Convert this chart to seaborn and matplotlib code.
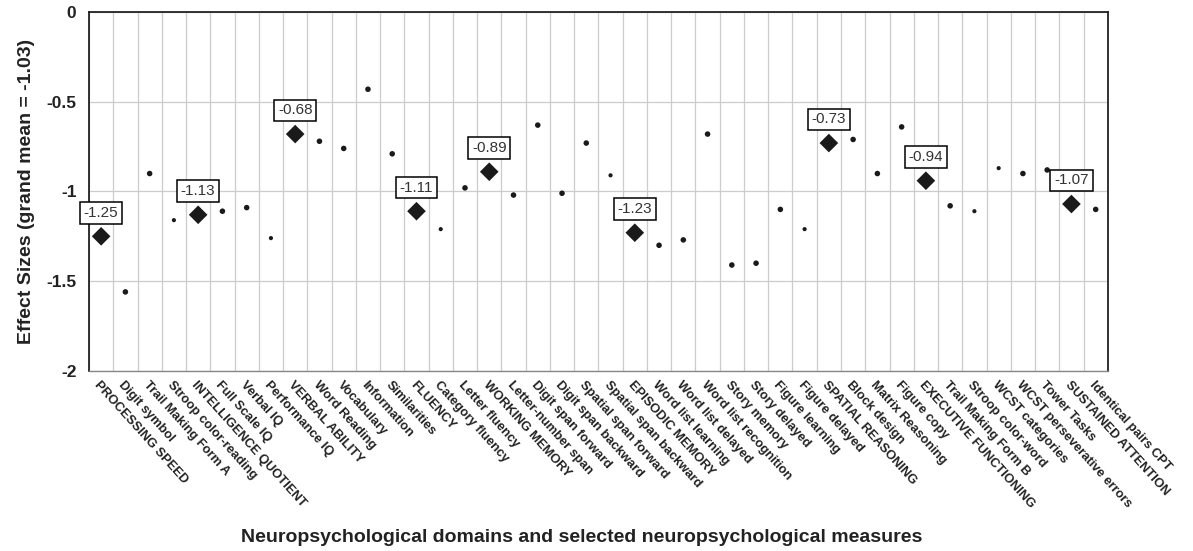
import numpy as np
import pandas as pd
import seaborn as sns
import matplotlib.pyplot as plt

# measures in plot order; domains are in capitals
measures = ["PROCESSING SPEED", "Digit symbol", "Trail Making Form A", "Stroop color-reading",
            "INTELLIGENCE QUOTIENT", "Full Scale IQ", "Verbal IQ", "Performance IQ",
            "VERBAL ABILITY", "Word Reading", "Vocabulary", "Information", "Similarities",
            "FLUENCY", "Category fluency", "Letter fluency",
            "WORKING MEMORY", "Letter-number span", "Digit span forward", "Digit span backward",
            "Spatial span forward", "Spatial span backward",
            "EPISODIC MEMORY", "Word list learning", "Word list delayed", "Word list recognition",
            "Story memory", "Story delayed", "Figure learning", "Figure delayed",
            "SPATIAL REASONING", "Block design", "Matrix Reasoning", "Figure copy",
            "EXECUTIVE FUNCTIONING", "Trail Making Form B", "Stroop color-word", "WCST categories",
            "WCST perseverative errors", "Tower Tasks",
            "SUSTAINED ATTENTION", "Identical pairs CPT"]

effects = [-1.25, -1.56, -0.90, -1.16,
           -1.13, -1.11, -1.09, -1.26,
           -0.68, -0.72, -0.76, -0.43, -0.79,
           -1.11, -1.21, -0.98,
           -0.89, -1.02, -0.63, -1.01, -0.73, -0.91,
           -1.23, -1.30, -1.27, -0.68, -1.41, -1.40, -1.10, -1.21,
           -0.73, -0.71, -0.90, -0.64,
           -0.94, -1.08, -1.11, -0.87, -0.90, -0.88,
           -1.07, -1.10]

# measures drawn with the smaller dot
small = ["Stroop color-reading", "Performance IQ", "Category fluency", "Spatial span backward",
         "Figure delayed", "Stroop color-word", "WCST categories"]

df = pd.DataFrame({"measure": measures, "effect": effects})
df["kind"] = np.where(df["measure"].str.isupper(), "domain",
                      np.where(df["measure"].isin(small), "small", "measure"))

sns.set_style("white")
plt.rcParams["font.family"] = ["Liberation Sans", "DejaVu Sans"]

fig = plt.figure(figsize=(11.93, 5.51), dpi=100)
ax = fig.add_axes([0.0746, 0.327, 0.854, 0.651])

sns.scatterplot(data=df, x="measure", y="effect", style="kind", size="kind",
                markers={"domain": "D", "measure": "o", "small": "o"},
                sizes={"domain": 90, "measure": 16, "small": 9},
                color="#1a1a1a", edgecolor="none", legend=False, ax=ax, zorder=3)

n = len(measures)
ax.set_xlim(-0.5, n - 0.5)
ax.set_ylim(-2, 0)
ax.set_yticks([0, -0.5, -1, -1.5, -2])
ax.set_yticklabels(["0", "-0.5", "-1", "-1.5", "-2"], fontsize=12.5, fontweight="bold",
                   color="#222222")

ax.set_xticks(range(n))
ax.set_xticklabels(measures, rotation=-48, ha="left", va="top", rotation_mode="anchor",
                   fontsize=9.3, fontweight="bold", color="#222222")
ax.set_xticks(np.arange(n + 1) - 0.5, minor=True)
ax.tick_params(axis="x", which="major", length=0, pad=6)
ax.tick_params(axis="x", which="minor", length=5, color="#888888", direction="out")
ax.tick_params(axis="y", length=0, pad=9)

ax.grid(True, which="minor", axis="x", color="#cccccc", lw=0.9)
ax.grid(True, which="major", axis="y", color="#cccccc", lw=0.9)
ax.grid(False, which="major", axis="x")

for side in ["top", "left", "right"]:
    ax.spines[side].set_color("#222222")
    ax.spines[side].set_linewidth(1.3)
ax.spines["bottom"].set_color("#888888")
ax.spines["bottom"].set_linewidth(1.0)

# value boxes above domain diamonds
for i, row in df.iterrows():
    if row["kind"] == "domain":
        ax.annotate(f"{row['effect']:.2f}", (i, row["effect"]), xytext=(0, 17),
                    textcoords="offset points", ha="center", va="center", fontsize=11,
                    color="#333333",
                    bbox=dict(boxstyle="square,pad=0.25", fc="white", ec="black", lw=1.1),
                    zorder=4)

ax.set_ylabel("Effect Sizes (grand mean = -1.03)", fontsize=14, fontweight="bold",
              labelpad=8, color="#222222")
ax.set_xlabel("")
fig.text(0.488, 0.025, "Neuropsychological domains and selected neuropsychological measures",
         ha="center", va="center", fontsize=14, fontweight="bold", color="#222222")

fig.savefig("out.png", dpi=100)
